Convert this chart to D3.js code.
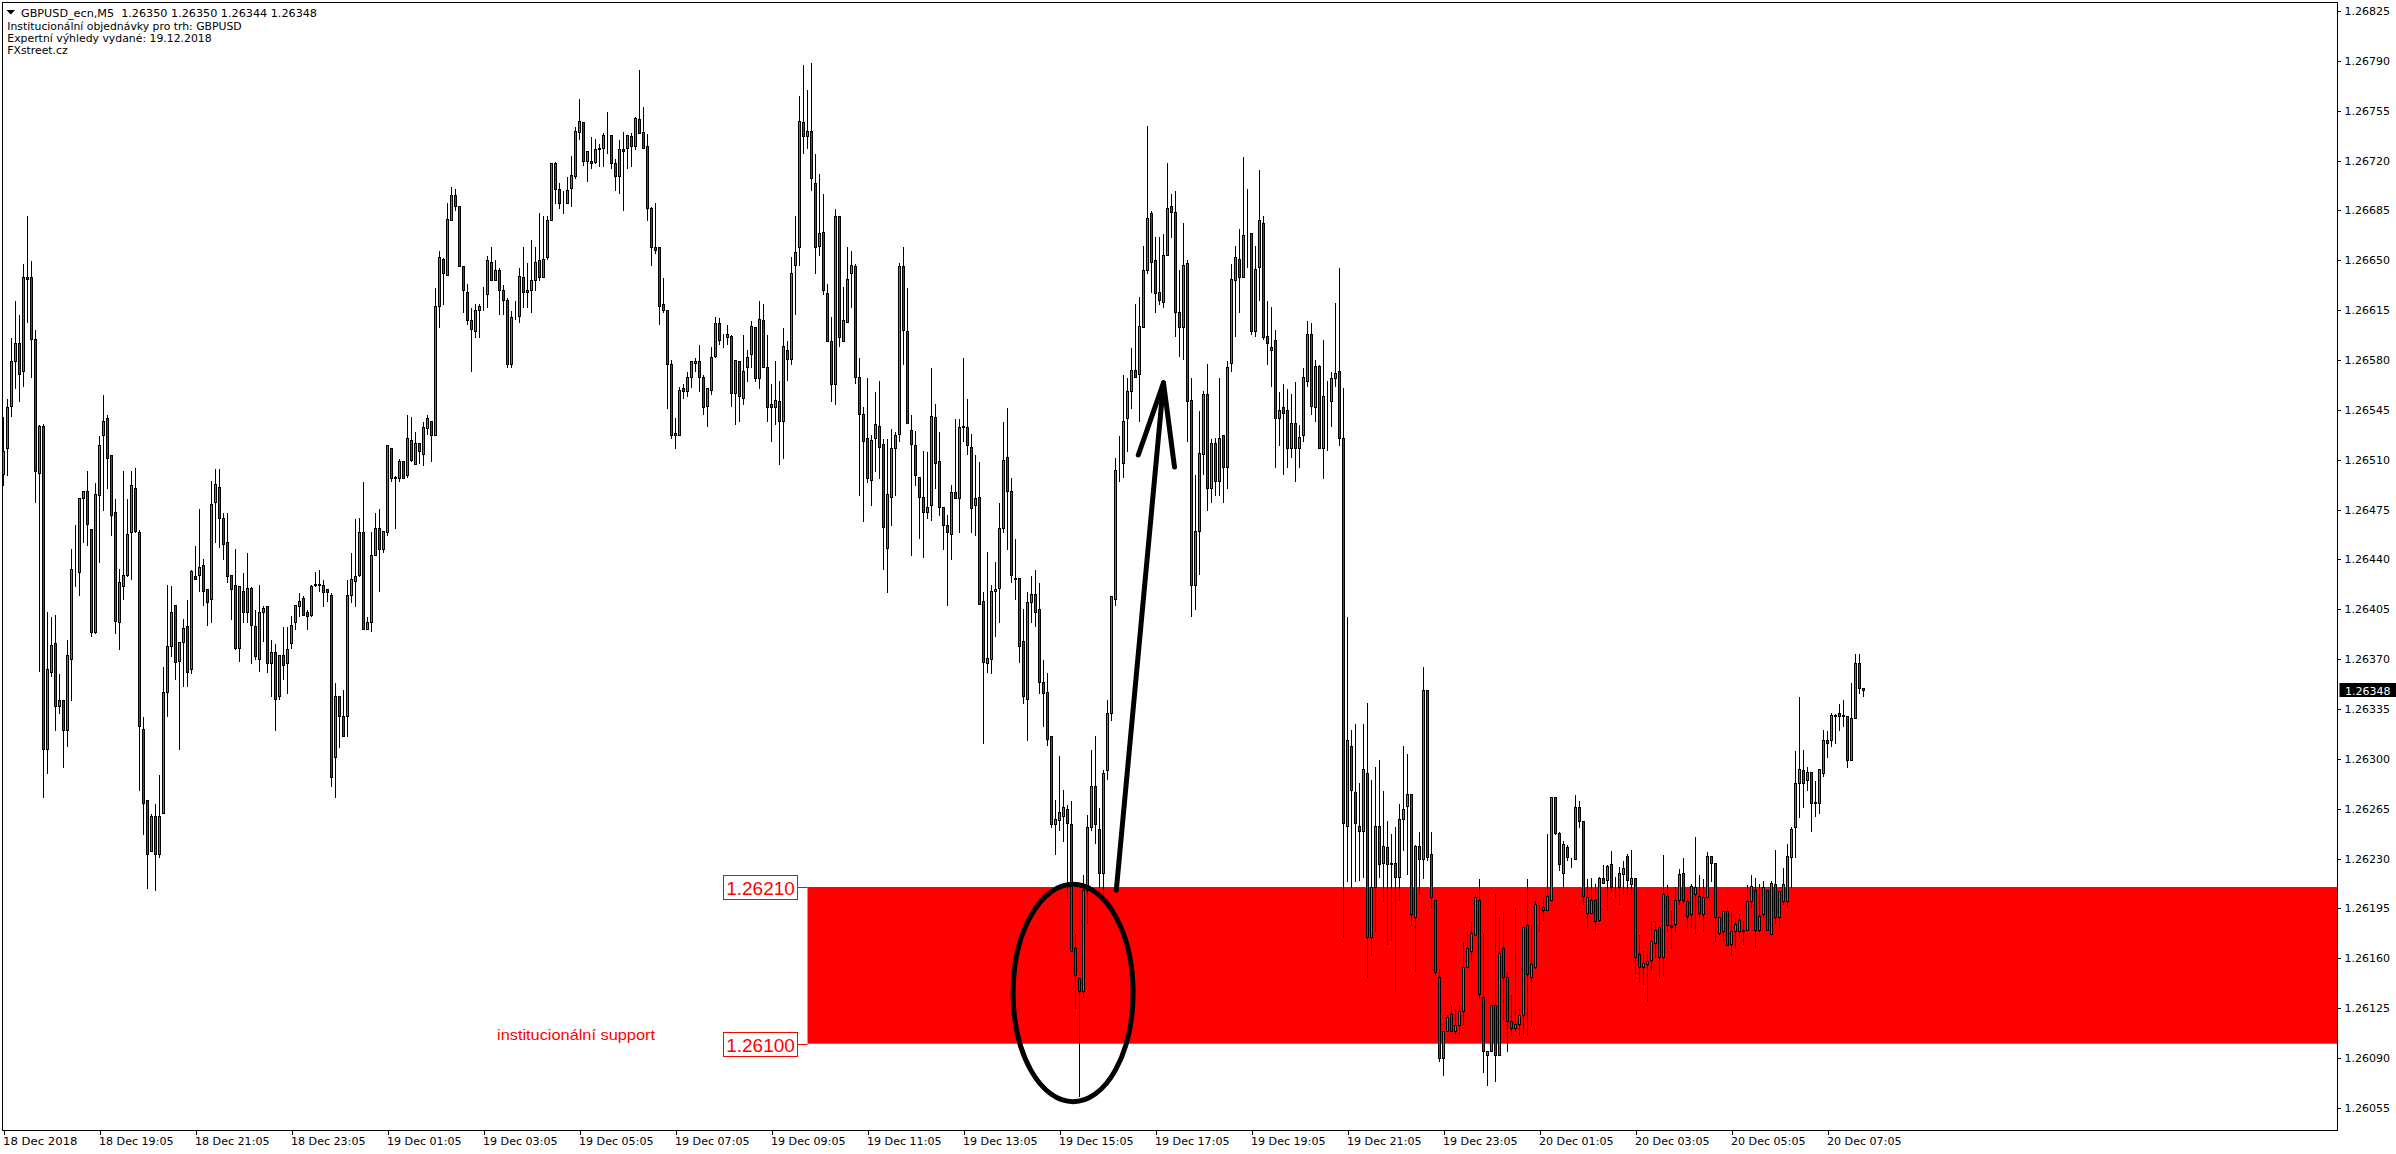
<!DOCTYPE html>
<html><head><meta charset="utf-8">
<script src="https://cdn.jsdelivr.net/npm/d3@7"></script>
<style>html,body{margin:0;padding:0;background:#fff}svg{display:block}</style>
</head><body><svg id="c" width="2396" height="1154"></svg>
<script>
// Price values: points above priceBase. Each row: open, high, low, close
const priceBase = 1.26, pointSize = 0.00001;
const bars18DecA = [
[500,541,492,516],[518,553,499,547],[548,596,541,579],[579,622,560,592],[592,612,551,570],[572,648,562,638],[638,682,607,637],[638,650,568,595],[595,602,480,502],[501,535,362,534],
[534,536,273,307],[307,404,290,363],[361,400,358,380],[381,402,320,337],[337,360,332,341],[341,342,294,320],[320,384,309,373],[370,448,341,433],[432,465,421,432],[431,484,415,483],
[483,489,452,488],[488,503,450,465],[461,462,386,389],[389,494,388,486],[485,527,438,520],[527,556,475,537],[539,542,490,511],[513,513,457,471],[473,483,388,397],[396,434,377,424],
[421,503,412,429],[429,483,428,458],[459,503,426,492],[490,505,459,460],[459,461,278,323],[321,330,247,269],[271,271,209,233],[235,262,235,260],[260,269,208,233],[233,289,231,260],
[262,365,262,347],[347,423,330,379],[379,422,372,403],[408,408,356,368],[369,382,307,382],[382,399,351,392],[393,412,351,361],[363,433,360,432],[428,450,426,426],[429,476,418,435]];
const bars18DecB = [
[436,441,408,418],[419,419,394,410],[412,496,396,479],[480,504,452,493],[491,504,449,469],[469,473,440,451],[452,473,424,428],[429,429,398,419],[422,448,377,378],[378,421,369,421],
[418,431,396,403],[403,445,396,420],[420,421,367,394],[393,405,370,372],[370,423,362,403],[403,408,383,406],[407,408,361,367],[367,384,344,375],[375,381,320,342],[344,373,342,373],
[373,393,356,366],[367,393,346,377],[381,401,378,394],[396,409,391,408],[407,417,400,411],[413,415,401,401],[403,405,391,400],[401,423,400,421],[422,432,421,423],[422,433,418,423],
[422,426,407,417],[419,420,411,417],[415,417,281,287],[301,354,273,344],[344,345,308,330],[330,349,316,316],[330,426,316,415],[415,445,410,426],[425,469,407,428],[429,470,428,459],
[459,495,391,391],[391,400,391,396],[396,460,390,443],[443,473,443,462],[462,476,418,447],[447,460,445,460],[459,520,457,520],[518,518,495,497],[497,499,462,498],[497,511,495,509]];
const bars19DecA = [
[509,510,497,497],[499,542,498,525],[524,541,509,510],[507,530,507,522],[522,522,508,516],[514,537,506,533],[532,542,528,539],[537,538,509,527],[527,631,527,618],[618,657,603,652],
[651,652,619,641],[640,691,640,679],[678,702,678,696],[696,701,685,688],[688,688,646,646],[646,647,614,629],[628,634,605,608],[608,617,572,602],[600,620,596,615],[615,620,596,618],
[617,632,615,617],[626,654,617,650],[649,660,636,636],[636,651,636,643],[643,645,612,629],[629,633,612,622],[622,624,575,577],[577,615,575,610],[610,622,609,610],[611,645,607,639],
[638,660,617,628],[629,649,617,628],[629,665,614,636],[636,660,629,649],[650,684,636,638],[638,682,638,651],[652,682,651,678],[678,718,678,718],[718,720,690,700],[700,705,687,690],
[690,699,683,690],[690,709,690,699],[701,724,688,710],[709,744,708,741],[740,764,735,748],[747,748,717,720],[720,727,706,727],[720,737,715,718],[719,736,718,728],[729,732,716,728]];
const bars19DecB = [
[729,740,716,738],[739,755,725,739],[738,738,715,718],[718,722,699,709],[709,735,697,728],[728,741,685,727],[729,738,715,738],[737,740,716,730],[730,751,728,750],[749,784,739,739],
[740,758,729,729],[730,739,678,687],[687,688,647,659],[659,691,655,657],[659,659,605,618],[619,638,614,615],[615,616,546,577],[577,581,525,527],[527,540,518,529],[527,562,527,559],
[560,564,553,558],[558,572,555,568],[568,580,561,579],[578,582,572,579],[579,591,558,568],[568,570,542,547],[548,560,534,560],[559,590,556,582],[583,611,582,606],[606,610,591,594],
[596,599,589,596],[596,605,591,598],[597,598,548,557],[557,580,535,580],[579,580,537,555],[553,598,549,572],[575,588,565,582],[584,608,575,604],[603,603,565,567],[567,622,560,609],
[608,620,575,575],[575,598,537,547],[549,564,523,547],[547,580,535,552],[551,566,507,537],[537,603,511,590],[587,594,566,581],[581,653,577,641],[647,682,612,656],[659,766,647,748]];
const bars19DecC = [
[747,788,725,737],[737,770,729,741],[741,789,699,708],[704,725,641,659],[660,711,654,669],[670,697,626,629],[627,634,593,593],[593,611,551,563],[563,687,549,681],[681,681,590,596],
[593,632,593,608],[607,660,607,637],[641,657,617,647],[646,648,564,568],[568,582,485,542],[542,548,467,523],[525,568,494,497],[496,528,478,524],[525,558,502,535],[534,566,497,519],
[521,525,433,463],[448,525,417,486],[484,532,464,518],[518,530,485,527],[528,649,523,646],[646,660,577,601],[600,631,536,536],[531,542,443,521],[520,531,492,499],[498,498,455,484],
[484,517,442,473],[473,516,469,477],[478,575,468,541],[540,550,490,508],[509,530,471,477],[477,477,447,464],[464,472,408,459],[458,493,440,487],[487,539,483,483],[483,539,459,533],
[533,582,523,534],[533,553,514,520],[519,529,459,476],[478,514,457,483],[484,509,409,409],[411,418,311,368],[367,446,361,371],[370,423,360,418],[418,439,386,419],[420,480,396,462]];
const bars19DecD = [
[462,537,459,510],[512,547,447,488],[488,498,424,429],[427,455,412,426],[427,427,368,379],[383,406,339,344],[342,418,313,410],[410,429,396,416],[416,433,393,403],[405,424,346,354],
[354,370,323,346],[347,361,310,314],[316,316,252,254],[254,272,233,258],[257,303,250,263],[260,279,242,266],[265,268,202,255],[254,271,165,165],[167,178,125,148],[146,146,63,137],
[137,219,133,208],[208,261,185,252],[252,307,250,281],[281,317,241,254],[251,266,210,220],[220,293,206,290],[292,342,286,332],[332,415,327,414],[412,512,408,503],[504,527,495,504],
[508,570,498,537],[539,568,516,558],[558,589,546,573],[573,620,568,568],[570,625,537,604],[603,661,603,643],[643,745,641,680],[683,685,628,649],[650,667,614,627],[628,667,619,622],
[621,669,617,654],[654,719,654,687],[688,697,666,684],[684,699,597,614],[614,644,583,603],[603,677,581,647],[648,651,523,551],[552,568,400,422],[422,500,405,460],[460,545,430,515]];
const bars19DecE = [
[514,559,500,556],[556,578,475,490],[490,525,480,522],[522,526,485,495],[495,568,485,525],[527,528,480,505],[505,580,490,575],[578,648,572,637],[636,661,597,652],[651,673,614,638],
[638,723,638,668],[669,701,645,669],[669,669,598,600],[600,661,597,644],[645,714,622,678],[676,682,595,596],[597,622,577,592],[589,618,562,587],[594,602,505,539],[539,558,520,545],
[547,564,500,543],[545,560,505,518],[518,557,512,536],[536,565,495,518],[518,535,505,526],[527,575,523,568],[565,608,562,598],[598,607,542,548],[547,581,537,576],[576,577,518,518],
[518,595,497,555],[553,566,517,553],[551,572,534,567],[567,621,562,571],[572,645,520,525],[525,561,175,255],[253,400,214,313],[309,321,210,278],[277,325,214,255],[253,284,215,249],
[249,325,217,293],[290,340,147,175],[175,286,162,210],[210,295,179,253],[253,300,217,226],[227,278,200,239],[238,257,170,226],[227,248,173,226],[227,253,137,217],[217,269,201,258]];
const bars19DecF = [
[258,310,236,265],[267,304,219,275],[275,276,183,191],[189,240,151,239],[239,249,205,230],[230,365,216,348],[348,348,229,231],[233,249,196,203],[201,201,149,150],[147,153,88,90],
[90,109,78,109],[109,121,109,119],[121,127,109,109],[109,125,107,113],[113,128,107,123],[123,172,114,154],[154,180,154,167],[165,186,159,178],[176,206,176,203],[201,216,132,135],
[133,178,80,95],[92,95,71,95],[95,128,95,127],[127,206,74,92],[92,190,92,164],[167,193,117,147],[147,151,95,116],[116,135,106,111],[111,196,109,114],[114,125,106,120],
[120,182,107,182],[183,216,106,149],[147,184,113,156],[154,201,153,198],[196,198,179,196],[194,203,187,196],[194,248,194,204],[201,274,201,273],[273,274,247,248],[248,249,222,226],
[220,243,210,240],[238,240,229,231],[231,231,224,231],[230,275,230,266],[266,271,252,256],[256,256,198,204],[192,216,182,203],[192,217,192,201],[201,213,180,186],[187,218,186,216]];
const bars20Dec = [
[216,226,213,213],[215,226,194,225],[226,236,207,210],[210,218,203,210],[210,225,198,220],[219,229,205,223],[232,234,205,215],[212,237,205,216],[216,216,149,161],[163,177,143,154],
[154,166,142,157],[156,164,130,158],[159,187,152,172],[171,187,161,180],[182,184,147,161],[161,233,148,205],[204,212,179,183],[183,194,167,182],[184,211,179,201],[201,223,198,219],
[220,231,199,201],[200,203,182,190],[191,213,182,211],[205,246,178,210],[204,219,189,192],[191,216,179,203],[203,235,203,232],[232,232,214,227],[227,227,172,189],[178,189,177,189],
[179,193,173,193],[193,197,169,169],[170,193,162,179],[179,189,167,184],[179,192,175,187],[179,187,170,180],[180,212,180,200],[200,219,196,211],[208,217,168,180],[180,213,179,190],
[191,215,189,210],[208,208,180,180],[177,215,177,213],[212,237,185,189],[189,208,182,207],[200,224,198,212],[200,241,196,232],[231,253,210,251],[252,306,231,283],[283,344,259,293],
[292,307,266,283],[285,295,278,291],[291,291,249,269],[270,285,260,269],[269,293,262,293],[290,321,288,313],[313,320,301,311],[313,333,309,331],[331,332,311,330],[332,339,320,330],
[331,342,323,330],[330,330,294,299],[299,354,299,329],[329,374,329,367],[367,374,346,350],[350,350,344,348]];

const priceTicks = [1.26825,1.26790,1.26755,1.26720,1.26685,1.26650,1.26615,1.26580,1.26545,1.26510,1.26475,1.26440,1.26405,1.26370,1.26335,1.26300,1.26265,1.26230,1.26195,1.26160,1.26125,1.26090,1.26055];
const timeTickBars = [0,24,48,72,96,120,144,168,192,216,240,264,288,312,336,360,384,408,432,456];
const timeTickLabels = ["18 Dec 2018","18 Dec 19:05","18 Dec 21:05","18 Dec 23:05","19 Dec 01:05","19 Dec 03:05","19 Dec 05:05","19 Dec 07:05","19 Dec 09:05","19 Dec 11:05","19 Dec 13:05","19 Dec 15:05","19 Dec 17:05","19 Dec 19:05","19 Dec 21:05","19 Dec 23:05","20 Dec 01:05","20 Dec 03:05","20 Dec 05:05","20 Dec 07:05"];
const headerLines = ["GBPUSD_ecn,M5  1.26350 1.26350 1.26344 1.26348","Institucionální objednávky pro trh: GBPUSD","Expertní výhledy vydané: 19.12.2018","FXstreet.cz"];
const zoneHigh = 1.26210, zoneLow = 1.26100, zoneStartBar = 201, lastPrice = 1.26348;
const zoneLabel = "institucionální support";
// Annotations in chart terms: [bar index, points above base]
const arrowShaft = [[278.2,207.8],[290,563.9]];
const arrowLeftBarb = [[283.7,513.3],[290,563.9]];
const arrowRightBarb = [[292.75,504.9],[290,563.9]];
const circleCentre = [267.4,135.6], circleRadiusBars = 15, circleRadiusPoints = 76.3;

const candles = [...bars18DecA,...bars18DecB,...bars19DecA,...bars19DecB,...bars19DecC,...bars19DecD,...bars19DecE,...bars19DecF,...bars20Dec];
const price = v => priceBase + v*pointSize;

const L=2.5,T=2.5,R=2337.5,B=1130.5;
const x = d3.scaleLinear().domain([0,465]).range([3.5,1863.5]);
const y = d3.scaleLinear().domain([1.26055,1.26825]).range([1107.8,11]);
const py = v => Math.round(y(v))+0.5;
const UI = "'DejaVu Sans',sans-serif", AR="'Liberation Sans',Arial,sans-serif";
const UP="#2aa62a", DOWN="#ff0000";

const svg = d3.select("#c");
svg.append("rect").attr("width",2396).attr("height",1154).attr("fill","#fff");
svg.append("defs").append("clipPath").attr("id","plot").append("rect")
  .attr("x",L).attr("y",T).attr("width",R-L).attr("height",B-T);
const plot = svg.append("g").attr("clip-path","url(#plot)");

// support zone
plot.append("rect").attr("x",x(zoneStartBar)).attr("y",y(zoneHigh))
  .attr("width",R-x(zoneStartBar)).attr("height",y(zoneLow)-y(zoneHigh)).attr("fill","#ff0000");

// candles
const g = plot.append("g").attr("shape-rendering","crispEdges");
const c = g.selectAll("g").data(candles).join("g");
c.append("line").attr("x1",(d,i)=>x(i)).attr("x2",(d,i)=>x(i))
  .attr("y1",d=>py(price(d[1]))).attr("y2",d=>py(price(d[2]))+0.5)
  .attr("stroke","#000").attr("stroke-width",1);
c.append("rect").attr("x",(d,i)=>x(i)-1).attr("width",2)
  .attr("y",d=>py(price(Math.max(d[0],d[3]))))
  .attr("height",d=>Math.abs(py(price(d[0]))-py(price(d[3]))))
  .attr("fill",d=>d[3]>=d[0]?UP:DOWN).attr("stroke","#000").attr("stroke-width",1);

// ellipse and arrow
plot.append("ellipse").attr("cx",x(circleCentre[0])).attr("cy",y(price(circleCentre[1])))
  .attr("rx",x(circleRadiusBars)-x(0)).attr("ry",y(price(0))-y(price(circleRadiusPoints)))
  .attr("fill","none").attr("stroke","#000").attr("stroke-width",5);
const arrowLine = d3.line().x(d=>x(d[0])).y(d=>y(price(d[1])));
[arrowShaft,arrowLeftBarb,arrowRightBarb].forEach(p=>{
  plot.append("path").attr("d",arrowLine(p)).attr("fill","none").attr("stroke","#000")
    .attr("stroke-width",5).attr("stroke-linecap","round");
});

// zone price labels
[zoneHigh,zoneLow].forEach(p=>{
  const yy=Math.round(y(p))+0.5, bx=x(zoneStartBar);
  plot.append("line").attr("x1",bx-10).attr("x2",bx).attr("y1",yy).attr("y2",yy).attr("stroke","#ff0000");
  plot.append("rect").attr("x",723.5).attr("y",yy-12).attr("width",74).attr("height",24)
    .attr("fill","#fff").attr("stroke","#ff0000").attr("stroke-width",1);
  plot.append("text").attr("x",760.5).attr("y",yy+7).attr("text-anchor","middle")
    .attr("font-family",AR).attr("font-size",19).attr("fill","#ff0000").text(p.toFixed(5));
});
plot.append("text").attr("x",497).attr("y",1039.5).attr("font-family",AR).attr("font-size",14.5)
  .attr("fill","#ff0000").attr("textLength",158).attr("lengthAdjust","spacingAndGlyphs").text(zoneLabel);

// header
const hdrX=[21,7.3,7.3,7.3], hdrY=[16.5,29.5,41.5,54], hdrW=[296,234.4,204.4,60.4];
headerLines.forEach((t,i)=>{
  svg.append("text").attr("x",hdrX[i]).attr("y",hdrY[i]).attr("font-family",UI).attr("font-size",11)
    .attr("fill","#000").attr("textLength",hdrW[i]).attr("lengthAdjust","spacingAndGlyphs")
    .attr("xml:space","preserve").style("white-space","pre").text(t);
});
svg.append("path").attr("d","M6.5 10H15L10.75 14.5Z").attr("fill","#000");

// axes
const yAxis = d3.axisRight(y).tickValues(priceTicks).tickSize(3).tickPadding(4).tickFormat(d=>d.toFixed(5));
const ya = svg.append("g").attr("transform",`translate(${R},0)`).call(yAxis);
ya.select(".domain").remove();
ya.selectAll("line").attr("shape-rendering","crispEdges");
ya.selectAll("text").attr("font-family",UI).attr("font-size",11).attr("fill","#000");

const xAxis = d3.axisBottom(x).tickValues(timeTickBars).tickSize(4).tickPadding(3)
  .tickFormat((d,i)=>timeTickLabels[i]);
const xa = svg.append("g").attr("transform",`translate(0,${B})`).call(xAxis);
xa.select(".domain").remove();
xa.selectAll("line").attr("shape-rendering","crispEdges");
xa.selectAll("text").attr("font-family",UI).attr("font-size",11).attr("fill","#000")
  .attr("text-anchor","start").attr("dx",-1).attr("textLength",74.5).attr("lengthAdjust","spacingAndGlyphs");

// frame
svg.append("path").attr("d",`M${L} ${B}V${T}H${R}V${B}H${L}`).attr("fill","none")
  .attr("stroke","#000").attr("stroke-width",1).attr("shape-rendering","crispEdges");

// last price tag
svg.append("rect").attr("x",2339.5).attr("y",Math.round(y(lastPrice))-7).attr("width",56.5).attr("height",14).attr("fill","#000");
svg.append("text").attr("x",2345).attr("y",Math.round(y(lastPrice))+4.5).attr("font-family",UI).attr("font-size",11)
  .attr("fill","#fff").text(lastPrice.toFixed(5));
</script></body></html>
